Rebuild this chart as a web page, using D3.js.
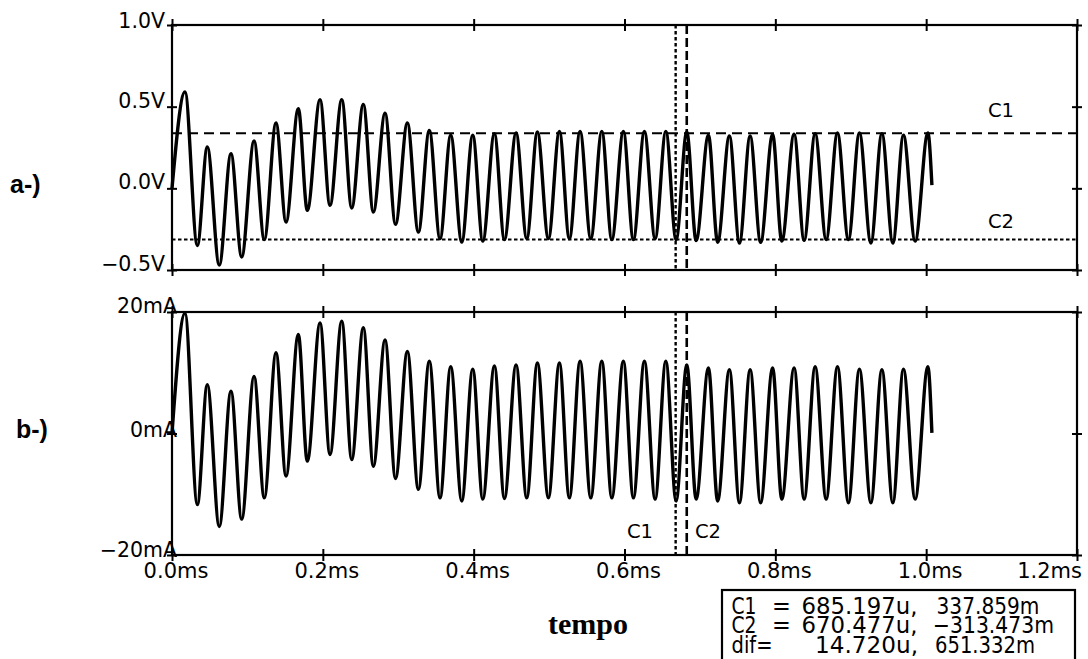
<!DOCTYPE html>
<html><head><meta charset="utf-8">
<script src="https://cdn.jsdelivr.net/npm/d3@7"></script>
<style>html,body{margin:0;padding:0;background:#fff;} svg{display:block;}</style>
</head><body>
<svg id="chart" width="1088" height="659"></svg>
<script>
// ---- data (extrema of the waveforms) ----
const timeMs = [0.0000,0.0172,0.0336,0.0468,0.0627,0.0782,0.0924,0.1088,0.1224,0.1379,
  0.1512,0.1675,0.1794,0.1963,0.2095,0.2251,0.2383,0.2537,0.2670,0.2825,
  0.2964,0.3121,0.3267,0.3412,0.3554,0.3696,0.3842,0.3988,0.4121,0.4275,
  0.4408,0.4562,0.4704,0.4845,0.4991,0.5137,0.5269,0.5411,0.5553,0.5699,
  0.5832,0.5985,0.6118,0.6264,0.6406,0.6548,0.6684,0.6826,0.6950,0.7113,
  0.7235,0.7391,0.7524,0.7666,0.7805,0.7964,0.8086,0.8249,0.8382,0.8528,
  0.8674,0.8824,0.8969,0.9115,0.9267,0.9413,0.9558,0.9699,0.9854,1.0023,1.0076];
const voltageV = [0.00,0.59,-0.35,0.253,-0.47,0.212,-0.42,0.29,-0.314,0.40,
  -0.206,0.488,-0.135,0.543,-0.104,0.543,-0.12,0.514,-0.145,0.46,
  -0.22,0.40,-0.268,0.355,-0.308,0.325,-0.329,0.325,-0.323,0.335,
  -0.314,0.339,-0.308,0.345,-0.308,0.349,-0.308,0.349,-0.308,0.349,
  -0.314,0.349,-0.314,0.349,-0.308,0.349,-0.314,0.345,-0.32,0.325,
  -0.33,0.32,-0.335,0.32,-0.33,0.33,-0.323,0.331,-0.318,0.335,
  -0.314,0.339,-0.314,0.339,-0.335,0.335,-0.335,0.325,-0.323,0.339,0.02];
const currentMA = [0.0,19.8,-11.7,8.05,-15.3,6.95,-14.1,9.4,-10.6,13.3,
  -7.0,16.3,-4.55,18.2,-3.45,18.5,-4.3,17.4,-5.4,15.4,
  -7.4,13.5,-9.2,11.9,-10.6,11.0,-11.1,10.6,-10.8,11.1,
  -10.7,11.3,-10.6,11.6,-10.6,11.6,-10.6,11.9,-10.6,11.9,
  -10.6,11.9,-10.6,11.9,-10.8,11.9,-11.1,11.3,-10.8,10.8,
  -11.1,10.5,-11.4,10.5,-11.4,10.8,-10.8,10.8,-10.8,11.0,
  -10.8,11.0,-11.4,10.6,-11.4,10.5,-11.4,10.6,-10.8,11.0,0.1];

const xTickValues = [0,0.2,0.4,0.6,0.8,1.0,1.2];
const xTickLabels = ["0.0ms","0.2ms","0.4ms","0.6ms","0.8ms","1.0ms","1.2ms"];
const vTickValues = [1.0,0.5,0.0,-0.5];
const vTickLabels = ["1.0V","0.5V","0.0V","\u22120.5V"];
const iTickValues = [20,0,-20];
const iTickLabels = ["20mA","0mA","\u221220mA"];

const cursorNames = ["C1","C2"];
const cursorTimesMs = [0.685197, 0.670477];
const cursorValuesV = [0.337859, -0.313473];
const readoutNames = ["C1","C2","dif="];
const readoutEq = ["=","=",""];
const readoutX = ["685.197u,","670.477u,","14.720u,"];
const readoutY = ["337.859m","\u2212313.473m","651.332m"];

// ---- layout ----
const svg = d3.select("#chart");
const L = 172, R = 1077;
const top1 = 25, bot1 = 270, top2 = 312, bot2 = 555;
const x = d3.scaleLinear().domain([0,1.2]).range([L,R]);
const yV = d3.scaleLinear().domain([-0.5,1.0]).range([bot1,top1]);
const yI = d3.scaleLinear().domain([-20,20]).range([bot2,top2]);
const FONT = "'DejaVu Sans', sans-serif";

function frame(t,b){
  svg.append("rect").attr("x",L).attr("y",t).attr("width",R-L).attr("height",b-t)
    .attr("fill","none").attr("stroke","#000").attr("stroke-width",2.2);
}
frame(top1,bot1); frame(top2,bot2);

function xTicksAt(yEdge){
  const g = svg.append("g").attr("transform",`translate(0,${yEdge-6})`)
    .call(d3.axisBottom(x).tickValues(xTickValues).tickSize(12).tickFormat(""));
  g.select(".domain").remove();
  g.selectAll(".tick line").attr("stroke","#000").attr("stroke-width",2);
}
[top1,bot1,top2,bot2].forEach(xTicksAt);

function yTicksAt(scale, vals, xEdge){
  const g = svg.append("g").attr("transform",`translate(${xEdge-5},0)`)
    .call(d3.axisRight(scale).tickValues(vals).tickSize(10).tickFormat(""));
  g.select(".domain").remove();
  g.selectAll(".tick line").attr("stroke","#000").attr("stroke-width",2);
}
yTicksAt(yV, vTickValues, L); yTicksAt(yV, vTickValues, R);
yTicksAt(yI, iTickValues, L); yTicksAt(yI, iTickValues, R);

// tick labels
svg.append("g").selectAll("text").data(vTickValues).join("text")
  .attr("x",165).attr("y",(d,i)=> yV(d) + (i===0 ? 3 : 1))
  .attr("text-anchor","end").attr("font-family",FONT).attr("font-size",20.5)
  .text((d,i)=>vTickLabels[i]);
svg.append("g").selectAll("text").data(iTickValues).join("text")
  .attr("x",177).attr("y",(d,i)=> yI(d) + (i===0 ? 1 : i===1 ? 3 : 2))
  .attr("text-anchor","end").attr("font-family",FONT).attr("font-size",20.5)
  .text((d,i)=>iTickLabels[i]);
svg.append("g").selectAll("text").data(xTickValues).join("text")
  .attr("x",(d,i)=> i===xTickValues.length-1 ? R+5 : x(d)+4)
  .attr("y",578).attr("text-anchor",(d,i)=> i===xTickValues.length-1 ? "end":"middle")
  .attr("font-family",FONT).attr("font-size",21)
  .text((d,i)=>xTickLabels[i]);

// cursor lines
const dashC1 = "9,4", dashC2 = "3.5,2.5";
svg.append("line").attr("x1",L).attr("x2",R).attr("y1",yV(cursorValuesV[0])).attr("y2",yV(cursorValuesV[0]))
  .attr("stroke","#000").attr("stroke-width",2).attr("stroke-dasharray","10,6");
svg.append("line").attr("x1",L).attr("x2",R).attr("y1",yV(cursorValuesV[1])).attr("y2",yV(cursorValuesV[1]))
  .attr("stroke","#000").attr("stroke-width",2).attr("stroke-dasharray",dashC2);
[[top1,bot1],[top2,bot2]].forEach(([t,b])=>{
  svg.append("line").attr("x1",x(cursorTimesMs[0])-2).attr("x2",x(cursorTimesMs[0])-2).attr("y1",t).attr("y2",b)
    .attr("stroke","#000").attr("stroke-width",2.6).attr("stroke-dasharray",dashC1);
  svg.append("line").attr("x1",x(cursorTimesMs[1])-2).attr("x2",x(cursorTimesMs[1])-2).attr("y1",t).attr("y2",b)
    .attr("stroke","#000").attr("stroke-width",2.4).attr("stroke-dasharray",dashC2);
});

// waveforms
const lineV = d3.line().x((d,i)=>x(timeMs[i])).y(d=>yV(d)).curve(d3.curveMonotoneX);
const lineI = d3.line().x((d,i)=>x(timeMs[i])).y(d=>yI(d)).curve(d3.curveMonotoneX);
svg.append("path").attr("d",lineV(voltageV)).attr("fill","none").attr("stroke","#000")
  .attr("stroke-width",3.4).attr("stroke-linejoin","round");
svg.append("path").attr("d",lineI(currentMA)).attr("fill","none").attr("stroke","#000")
  .attr("stroke-width",3.4).attr("stroke-linejoin","round");

// cursor labels
svg.append("text").attr("x",988).attr("y",117).attr("font-family",FONT).attr("font-size",19.5).text(cursorNames[0]);
svg.append("text").attr("x",988).attr("y",228).attr("font-family",FONT).attr("font-size",19.5).text(cursorNames[1]);
svg.append("text").attr("x",627).attr("y",538).attr("font-family",FONT).attr("font-size",19.5).text(cursorNames[0]);
svg.append("text").attr("x",695).attr("y",538).attr("font-family",FONT).attr("font-size",19.5).text(cursorNames[1]);

// panel labels
svg.append("text").attr("x",10).attr("y",193).attr("font-family","'Liberation Sans', Arial, sans-serif")
  .attr("font-weight","bold").attr("font-size",25).text("a-)");
svg.append("text").attr("x",16).attr("y",438).attr("font-family","'Liberation Sans', Arial, sans-serif")
  .attr("font-weight","bold").attr("font-size",25).text("b-)");

// axis title
svg.append("text").attr("x",588).attr("y",634).attr("text-anchor","middle")
  .attr("font-family","'Liberation Serif', 'Times New Roman', serif").attr("font-weight","bold")
  .attr("font-size",30).text("tempo");

// readout box
svg.append("rect").attr("x",722).attr("y",590).attr("width",353).attr("height",90)
  .attr("fill","#fff").attr("stroke","#000").attr("stroke-width",2.2);
const rowY = [613.5,633,653];
const nameLen = [25,25,41];
const xStart = [801.5,801.5,815], xLen = [116,116,103];
const yStart = [936.5,933,935], yLen = [103,121,100];
const rb = svg.append("g").attr("font-family",FONT).attr("font-size",22.5);
rb.selectAll(".n").data(readoutNames).join("text").attr("class","n")
  .attr("x",731.5).attr("y",(d,i)=>rowY[i]).text(d=>d)
  .attr("textLength",(d,i)=>nameLen[i]).attr("lengthAdjust","spacingAndGlyphs");
rb.selectAll(".e").data(readoutEq).join("text").attr("class","e")
  .attr("x",772).attr("y",(d,i)=>rowY[i]).text(d=>d);
rb.selectAll(".vx").data(readoutX).join("text").attr("class","vx")
  .attr("x",(d,i)=>xStart[i]).attr("y",(d,i)=>rowY[i]).text(d=>d)
  .attr("textLength",(d,i)=>xLen[i]).attr("lengthAdjust","spacingAndGlyphs");
rb.selectAll(".vy").data(readoutY).join("text").attr("class","vy")
  .attr("x",(d,i)=>yStart[i]).attr("y",(d,i)=>rowY[i]).text(d=>d)
  .attr("textLength",(d,i)=>yLen[i]).attr("lengthAdjust","spacingAndGlyphs");
</script>
</body></html>
